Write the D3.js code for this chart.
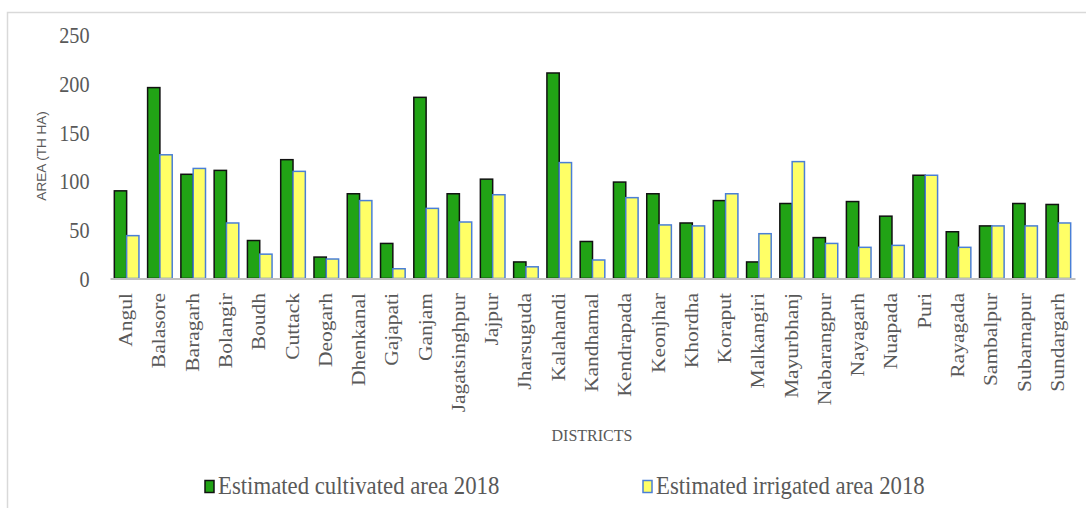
<!DOCTYPE html>
<html>
<head>
<meta charset="utf-8">
<script src="https://cdn.jsdelivr.net/npm/d3@7"></script>
<style>
  html, body { margin: 0; padding: 0; background: #fff; }
  svg { display: block; }
</style>
</head>
<body>
<svg id="chart" width="1086" height="508"></svg>
<script>
// District-wise cultivated vs irrigated area, 2018 (thousand hectares)
const districts = ["Angul","Balasore","Baragarh","Bolangir","Boudh","Cuttack","Deogarh","Dhenkanal","Gajapati","Ganjam",
  "Jagatsinghpur","Jajpur","Jharsuguda","Kalahandi","Kandhamal","Kendrapada","Keonjhar","Khordha","Koraput","Malkangiri",
  "Mayurbhanj","Nabarangpur","Nayagarh","Nuapada","Puri","Rayagada","Sambalpur","Subarnapur","Sundargarh"];
const cultivated = [90,196,107,111,39,122,22,87,36,186,
  87,102,17,211,38,99,87,57,80,17,
  77,42,79,64,106,48,54,77,76];
const irrigated = [44,127,113,57,25,110,20,80,10,72,
  58,86,12,119,19,83,55,54,87,46,
  120,36,32,34,106,32,54,54,57];
const yTicks = [0,50,100,150,200,250];
const seriesNames = ["Estimated cultivated area 2018","Estimated irrigated area 2018"];

const svg = d3.select("#chart");
const textColor = "#595959";
const serif = "'Liberation Serif','Times New Roman',serif";

// outer frame
svg.append("rect").attr("x",7.5).attr("y",12.5).attr("width",1120).attr("height",600)
  .attr("fill","none").attr("stroke","#d9d9d9").attr("stroke-width",1.5);

const x = d3.scaleBand().domain(districts).range([110,1075]).padding(0);
const y = d3.scaleLinear().domain([0,250]).range([278.5,35]);

const bw = x.bandwidth()*0.37;
const off = (x.bandwidth() - 2*bw)/2;

// bars
const g = svg.append("g");
g.selectAll("rect.cult").data(districts).join("rect")
  .attr("class","cult")
  .attr("x", d => x(d) + off)
  .attr("y", (d,i) => y(cultivated[i]))
  .attr("width", bw)
  .attr("height", (d,i) => y(0) - y(cultivated[i]))
  .attr("fill","#21a315").attr("stroke","#111").attr("stroke-width",1.5);
g.selectAll("rect.irr").data(districts).join("rect")
  .attr("class","irr")
  .attr("x", d => x(d) + off + bw)
  .attr("y", (d,i) => y(irrigated[i]))
  .attr("width", bw)
  .attr("height", (d,i) => y(0) - y(irrigated[i]))
  .attr("fill","#ffff66").attr("stroke","#4a7fd6").attr("stroke-width",1.5);

// y axis labels
const yAxis = d3.axisLeft(y).tickValues(yTicks).tickSize(0).tickPadding(0);
const ya = svg.append("g").attr("transform","translate(89.5,0)").call(yAxis);
ya.select(".domain").remove();
ya.selectAll(".tick text")
  .attr("fill",textColor).attr("font-family",serif).attr("font-size",23)
  .attr("text-anchor","end")
  .attr("dy","0.34em")
  .attr("x", 0)
  .attr("transform","scale(0.88,1)");

// x axis baseline
const xAxis = d3.axisBottom(x).tickSize(0).tickFormat("");
const xa = svg.append("g").attr("transform",`translate(0,${y(0)})`).call(xAxis);
xa.select(".domain").attr("stroke","#bfbfbf").attr("stroke-width",2);

// rotated district labels
svg.append("g").selectAll("g").data(districts).join("g")
  .attr("transform", d => `translate(${x(d)+x.bandwidth()/2+5.5},293) rotate(-90)`)
  .append("text")
  .attr("transform","scale(1,0.85)")
  .attr("text-anchor","end")
  .attr("fill",textColor).attr("font-family",serif).attr("font-size",21.5)
  .text(d => d);

// axis titles
svg.append("text")
  .attr("transform","translate(46,156) rotate(-90)")
  .attr("text-anchor","middle")
  .attr("fill",textColor).attr("font-family","'Liberation Sans',Arial,sans-serif").attr("font-size",13.5)
  .text("AREA (TH HA)");
svg.append("text")
  .attr("transform","translate(592,441) scale(0.97,1)")
  .attr("text-anchor","middle")
  .attr("fill",textColor).attr("font-family",serif).attr("font-size",16.5)
  .text("DISTRICTS");

// legend
const legendItems = [
  {name: seriesNames[0], fill:"#21a315", stroke:"#111", sx:205, tx:218},
  {name: seriesNames[1], fill:"#ffff66", stroke:"#4a7fd6", sx:643, tx:656}
];
const lg = svg.append("g").selectAll("g").data(legendItems).join("g");
lg.append("rect")
  .attr("x", d => d.sx).attr("y",480.5).attr("width",9).attr("height",12)
  .attr("fill", d => d.fill).attr("stroke", d => d.stroke).attr("stroke-width",1.5);
lg.append("text")
  .attr("transform", d => `translate(${d.tx},494) scale(0.93,1)`)
  .attr("fill",textColor).attr("font-family",serif).attr("font-size",24.5)
  .text(d => d.name);
</script>
</body>
</html>
